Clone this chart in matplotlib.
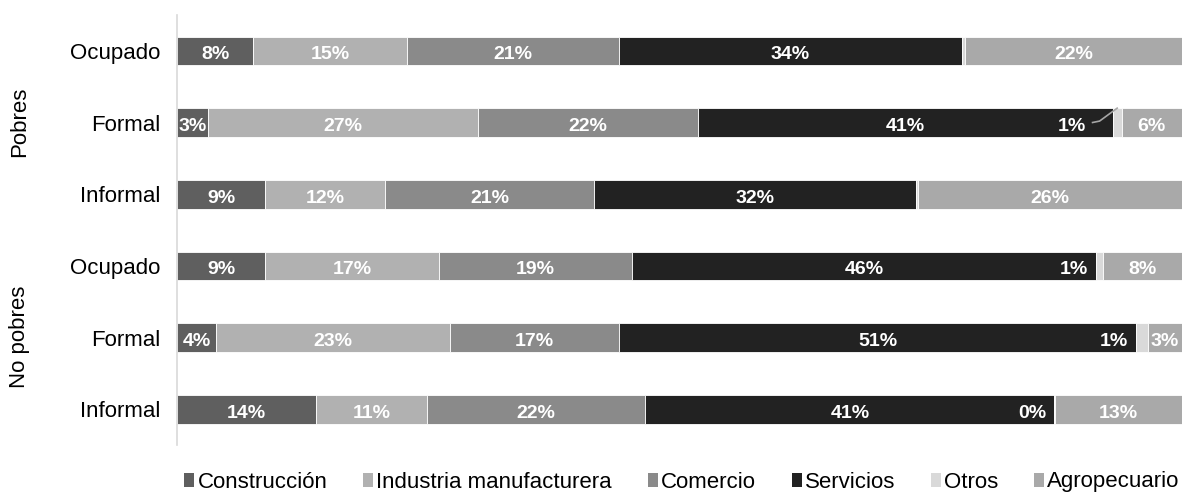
import numpy as np
import matplotlib.pyplot as plt
from matplotlib.patches import Patch

plt.rcParams['font.family'] = ['Liberation Sans', 'DejaVu Sans']

# Filas de arriba hacia abajo
filas = ['Ocupado', 'Formal', 'Informal', 'Ocupado', 'Formal', 'Informal']
grupos = ['Pobres', 'No pobres']

sectores = ['Construcción', 'Industria manufacturera', 'Comercio', 'Servicios', 'Otros', 'Agropecuario']
colores = ['#5f5f5f', '#b1b1b1', '#8a8a8a', '#222222', '#d9d9d9', '#a9a9a9']

# Participacion (%) de cada sector por fila
construccion = [7.6, 3.1, 8.8, 8.8, 3.9, 13.8]
industria = [15.3, 26.9, 11.9, 17.3, 23.3, 11.1]
comercio = [21.1, 21.8, 20.8, 19.2, 16.8, 21.7]
servicios = [34.1, 41.3, 32.0, 46.1, 51.4, 40.7]
otros = [0.3, 0.9, 0.2, 0.7, 1.2, 0.1]
agropecuario = [21.6, 6.0, 26.3, 7.9, 3.4, 12.6]

# Etiquetas de "Otros" que se muestran
mostrar_otros = [False, True, False, True, True, True]

datos = [construccion, industria, comercio, servicios, otros, agropecuario]

fig = plt.figure(figsize=(11.82, 4.92), dpi=100)
ax = fig.add_axes([0.1497, 0.0955, 0.8503, 0.874])

y = np.arange(len(filas))
alto = 0.4
dy = 0.03  # pequeño ajuste vertical de las etiquetas
izq = np.zeros(len(filas))
for i, (serie, color) in enumerate(zip(datos, colores)):
    serie = np.array(serie)
    ax.barh(y, serie, left=izq, height=alto, color=color, edgecolor='white', linewidth=0.6)
    for j, v in enumerate(serie):
        if i == 4:
            if not mostrar_otros[j]:
                continue
            # la etiqueta de Otros va a la izquierda del segmento
            if j == 1:
                xt = izq[j] - 2.7
                ax.plot([xt + 0.7, xt + 1.4, izq[j] + v / 2], [j, j - 0.02, j - alto / 2],
                        color='#a6a6a6', lw=1.2)
            else:
                xt = izq[j] - 0.8
            ax.text(xt, j + dy, f'{v:.0f}%', ha='right', va='center_baseline', color='white',
                    fontsize=14, fontweight='bold')
        else:
            ax.text(izq[j] + v / 2, j + dy, f'{v:.0f}%', ha='center', va='center_baseline',
                    color='white', fontsize=14, fontweight='bold')
    izq += serie

ax.set_xlim(0, 100)
ax.set_ylim(5.5, -0.5)
ax.set_yticks(y)
ax.set_yticklabels(filas, fontsize=16)
ax.tick_params(axis='y', length=0, pad=12)
ax.set_xticks([])
for lado in ['top', 'right', 'bottom']:
    ax.spines[lado].set_visible(False)
ax.spines['left'].set_color('#d9d9d9')
ax.spines['left'].set_linewidth(1.2)

# Etiquetas de grupo
fig.text(20 / 1182, 1 - 122 / 492, grupos[0], rotation=90, ha='center', va='center', fontsize=16)
fig.text(20 / 1182, 1 - 337 / 492, grupos[1], rotation=90, ha='center', va='center', fontsize=16)

handles = [Patch(facecolor=c, edgecolor='none') for c in colores]
fig.legend(handles, sectores, loc='center', bbox_to_anchor=(0.577, 1 - 482 / 492), ncol=6,
           frameon=False, fontsize=16, handlelength=0.45, handleheight=0.6,
           handletextpad=0.15, columnspacing=1.6, borderpad=0)

fig.savefig('out.png', dpi=100)
